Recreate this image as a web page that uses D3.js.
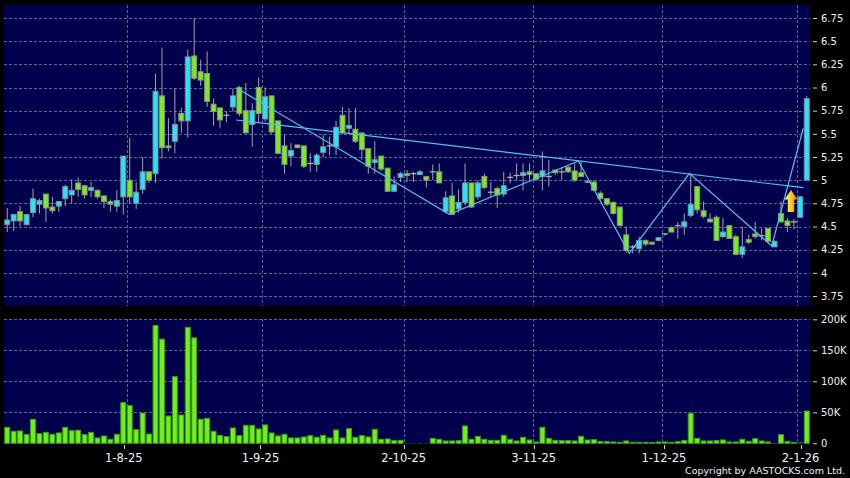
<!DOCTYPE html>
<html><head><meta charset="utf-8">
<script src="https://cdn.jsdelivr.net/npm/d3@7"></script>
<style>html,body{margin:0;padding:0;background:#000;}svg{display:block;}</style>
</head><body><div id="chart"></div>
<script>
// ---- data ----
const opens  = [4.52,4.56,4.66,4.52,4.65,4.74,4.85,4.71,4.72,4.80,4.84,4.97,4.94,4.89,4.89,4.83,4.77,4.72,4.82,5.00,
 4.75,4.90,5.09,5.07,5.91,5.37,5.42,5.72,5.64,6.34,6.17,6.15,5.82,5.78,5.70,5.79,6.00,5.75,5.60,6.00,
 5.66,5.91,5.64,5.37,5.26,5.38,5.37,5.18,5.17,5.30,5.37,5.36,5.70,5.56,5.55,5.51,5.34,5.19,5.26,5.13,
 4.88,5.03,5.07,5.07,5.06,5.04,5.09,5.09,4.66,4.83,4.69,4.76,4.97,4.82,5.04,4.87,4.91,4.85,5.03,5.05,
 5.05,5.09,5.07,5.04,5.04,5.11,5.09,5.14,5.10,5.08,4.98,4.98,4.86,4.80,4.76,4.71,4.41,4.28,4.26,4.35,
 4.33,4.35,4.42,4.49,4.51,4.50,4.62,4.93,4.67,4.58,4.60,4.39,4.51,4.39,4.20,4.36,4.42,4.40,4.48,4.28,
 4.64,4.56,4.55,4.60,5.00];
const highs  = [4.70,4.63,4.72,4.63,4.91,4.80,4.85,4.82,4.77,4.95,5.01,5.03,4.95,4.98,4.90,4.83,4.79,4.89,5.26,5.46,
 4.98,5.25,5.09,6.15,6.43,5.67,5.99,5.78,6.41,6.75,6.30,6.39,5.88,5.78,5.74,5.99,6.02,6.05,5.83,6.11,
 6.00,5.91,5.64,5.49,5.40,5.38,5.37,5.29,5.29,5.49,5.47,5.64,5.79,5.78,5.78,5.51,5.34,5.42,5.26,5.13,
 5.04,5.09,5.11,5.09,5.11,5.04,5.17,5.18,4.88,4.97,4.90,5.18,4.97,5.00,5.07,4.98,4.93,5.09,5.08,5.18,
 5.18,5.18,5.07,5.31,5.22,5.11,5.14,5.15,5.18,5.21,5.00,5.00,4.88,4.80,4.77,4.71,4.50,4.30,4.39,4.36,
 4.34,4.38,4.43,4.50,4.55,4.64,5.06,4.93,4.77,4.64,4.62,4.59,4.51,4.41,4.50,4.41,4.55,4.48,4.48,4.35,
 4.77,4.59,4.58,4.83,5.91];
const lows   = [4.44,4.45,4.50,4.51,4.60,4.64,4.55,4.64,4.66,4.72,4.75,4.82,4.80,4.82,4.80,4.70,4.66,4.66,4.63,4.75,
 4.69,4.85,4.97,4.97,5.23,5.31,5.29,5.51,5.46,6.08,6.02,5.79,5.59,5.56,5.63,5.74,5.69,5.51,5.36,5.62,
 5.63,5.50,5.28,5.07,5.15,5.35,5.13,5.09,5.09,5.25,5.27,5.27,5.50,5.50,5.40,5.22,5.07,5.07,5.10,4.88,
 4.88,4.98,4.98,4.98,5.06,4.92,5.00,4.97,4.64,4.63,4.65,4.73,4.70,4.79,4.90,4.82,4.70,4.82,4.97,5.00,
 4.89,5.00,5.00,4.89,4.93,5.06,5.00,5.08,4.98,5.04,4.97,4.88,4.79,4.72,4.63,4.50,4.22,4.21,4.21,4.29,
 4.30,4.34,4.40,4.44,4.37,4.41,4.60,4.64,4.59,4.54,4.35,4.38,4.37,4.19,4.16,4.31,4.37,4.35,4.32,4.28,
 4.54,4.44,4.47,4.59,5.00];
const closes = [4.57,4.63,4.56,4.63,4.80,4.78,4.70,4.67,4.77,4.93,4.89,4.90,4.84,4.92,4.82,4.77,4.74,4.78,5.26,4.82,
 4.87,5.09,5.00,5.96,5.35,5.35,5.60,5.64,6.33,6.10,6.08,5.85,5.74,5.65,5.70,5.91,5.72,5.51,5.75,5.72,
 5.90,5.52,5.29,5.17,5.32,5.35,5.15,5.18,5.27,5.36,5.37,5.57,5.51,5.59,5.42,5.33,5.15,5.22,5.12,4.88,
 4.95,5.07,5.05,5.07,5.09,5.00,5.09,4.97,4.81,4.63,4.76,4.97,4.71,4.97,4.92,4.87,4.84,4.94,5.03,5.05,
 5.08,5.06,5.01,5.10,5.04,5.08,5.09,5.09,5.00,5.04,4.98,4.89,4.80,4.74,4.64,4.51,4.24,4.28,4.35,4.31,
 4.31,4.38,4.42,4.44,4.51,4.55,4.74,4.68,4.61,4.55,4.35,4.44,4.37,4.20,4.28,4.33,4.39,4.40,4.34,4.34,
 4.55,4.51,4.55,4.82,5.88];
// volume in thousands of shares
const volumes = [25.8,19.4,19.9,14.5,38.7,15.6,17.7,14.5,16.7,25.8,20.4,21,14,17.7,8.6,11.8,6.5,14.5,65.6,60.8,
 22,48.9,15,190,168,44,107.5,45.7,187,170,38.7,40.3,19.4,12.9,10.8,24.7,12.4,29,29,23.1,
 29.6,16.7,11.8,14.5,8.6,8.6,10.2,12.4,9.7,12.9,8.6,21.5,8.6,23.7,9.7,12.4,10.2,22.6,6.5,7,
 4.3,4.8,0.3,0.3,0.3,0.3,8,6.5,3.8,3.8,4.3,28,6.5,11.3,6.5,4.8,4.8,12.9,6.5,3.8,
 9.7,5.4,2.2,25.8,8,4.8,4.3,4.3,3.8,11.3,5.4,5.9,2.7,2.7,2.2,1.6,3.8,1.6,1.6,1.6,
 1.1,2.2,2.2,1.6,2.7,4.8,48.4,8,3.8,3.8,4.3,5.4,2.2,2.2,6.5,3.2,7.5,3.8,2.2,0.5,
 14,3.2,1.6,1,52];
const priceTicks = [3.75,4,4.25,4.5,4.75,5,5.25,5.5,5.75,6,6.25,6.5,6.75];
const volumeTicks = [0,50,100,150,200];
const volumeTickLabels = ["0","50K","100K","150K","200K"];
const dateTickIndex = [19,40,62,82,102,123];
const dateTickLabels = ["1-8-25","1-9-25","2-10-25","3-11-25","1-12-25","2-1-26"];
// drawn trend lines: [bar index, price]
const resistanceLine = [[35.48,5.649],[123.46,4.919]];
const zigzagLine = [[35.68,5.99],[68.56,4.632],[88.57,5.207],[96.46,4.211],[105.8,5.074],[118.56,4.29],[123.46,5.56]];
const arrowMark = {index:121.55, top:4.894, bottom:4.657};

// ---- layout ----
const W=850,H=478;
const N = closes.length;
const pL=4, pR=810;
const pTop=5, pBot=306, vTop=319, vBot=444;
const BG="#00004c", GRID="#5b6496", CYAN="#22e4ff", GREEN="#78ee1c", OUT="#8c8c8c", WICK="#a4a4a4", LINE="#4fc3ef";

const svg = d3.select("#chart").append("svg").attr("width",W).attr("height",H);
svg.append("rect").attr("width",W).attr("height",H).attr("fill","#000");

const xb = d3.scaleBand().domain(d3.range(N)).range([pL,pR]).padding(0);
const xi = d3.scaleLinear().domain([-0.5,N-0.5]).range([pL,pR]);
const bw = xb.bandwidth();
const yP = d3.scaleLinear().domain([3.75,6.75]).range([296,18]);
const yV = d3.scaleLinear().domain([0,200]).range([443.3,319.3]);

// panels
svg.append("rect").attr("x",pL).attr("y",pTop).attr("width",pR-pL).attr("height",pBot-pTop).attr("fill",BG);
svg.append("rect").attr("x",pL).attr("y",vTop).attr("width",pR-pL).attr("height",vBot-vTop).attr("fill",BG);

const grid = svg.append("g").attr("stroke",GRID).attr("stroke-width",1).attr("stroke-dasharray","3,2").attr("shape-rendering","crispEdges");
grid.selectAll(".hp").data(priceTicks).join("line").attr("x1",pL).attr("x2",pR)
  .attr("y1",d=>Math.round(yP(d))+0.5).attr("y2",d=>Math.round(yP(d))+0.5);
grid.selectAll(".hv").data(volumeTicks.filter(d=>d>0)).join("line").attr("x1",pL).attr("x2",pR)
  .attr("y1",d=>Math.round(yV(d))+0.5).attr("y2",d=>Math.round(yV(d))+0.5);
dateTickIndex.forEach(i=>{
  const gx = Math.round(xb(i))+0.5;
  grid.append("line").attr("x1",gx).attr("x2",gx).attr("y1",pTop).attr("y2",pBot);
  grid.append("line").attr("x1",gx).attr("x2",gx).attr("y1",vTop).attr("y2",vBot);
});

// candles
const data = d3.range(N).map(i=>({i,o:opens[i],h:highs[i],l:lows[i],c:closes[i],v:volumes[i]}));
const cw = bw-1.5;
const cg = svg.append("g");
cg.selectAll(".wick").data(data).join("line")
  .attr("x1",d=>xb(d.i)+bw/2).attr("x2",d=>xb(d.i)+bw/2)
  .attr("y1",d=>yP(d.h)).attr("y2",d=>yP(d.l))
  .attr("stroke",WICK).attr("stroke-width",1);
cg.selectAll(".body").data(data.filter(d=>Math.abs(d.c-d.o)>=0.005)).join("rect")
  .attr("x",d=>xb(d.i)+bw/2-cw/2).attr("width",cw)
  .attr("y",d=>yP(Math.max(d.o,d.c))).attr("height",d=>Math.max(1,Math.abs(yP(d.o)-yP(d.c))))
  .attr("fill",d=>d.c>d.o?CYAN:GREEN).attr("stroke",OUT).attr("stroke-width",1);
cg.selectAll(".doji").data(data.filter(d=>Math.abs(d.c-d.o)<0.005)).join("line")
  .attr("x1",d=>xb(d.i)+bw/2-cw/2-0.5).attr("x2",d=>xb(d.i)+bw/2+cw/2+0.5)
  .attr("y1",d=>yP(d.c)).attr("y2",d=>yP(d.c))
  .attr("stroke","#b0b0b0").attr("stroke-width",1.3);

// volume bars
svg.append("g").selectAll("rect").data(data).join("rect")
  .attr("x",d=>xb(d.i)+bw/2-cw/2).attr("width",cw)
  .attr("y",d=>yV(d.v)).attr("height",d=>yV(0)-yV(d.v))
  .attr("fill","#6ff01e").attr("stroke","#3f9c12").attr("stroke-width",d=>d.v>1?1:0);

// trend lines
const ln = d3.line().x(d=>xi(d[0])).y(d=>yP(d[1]));
svg.append("path").attr("d",ln(resistanceLine)).attr("fill","none").attr("stroke",LINE).attr("stroke-width",1.2);
svg.append("path").attr("d",ln(zigzagLine)).attr("fill","none").attr("stroke",LINE).attr("stroke-width",1.2);

// arrow
const defs = svg.append("defs");
const gr = defs.append("linearGradient").attr("id","arrowGrad").attr("x1","0").attr("x2","1").attr("y1","0").attr("y2","0");
gr.append("stop").attr("offset","0").attr("stop-color","#fff59a");
gr.append("stop").attr("offset","0.45").attr("stop-color","#ffd21e");
gr.append("stop").attr("offset","1").attr("stop-color","#d88a00");
{
  const cx = xi(arrowMark.index), ty = yP(arrowMark.top), by = yP(arrowMark.bottom);
  const hw=6.5, sw=3.2, hh=9.5;
  const p = `M${cx},${ty} L${cx+hw},${ty+hh} L${cx+sw},${ty+hh} L${cx+sw},${by} L${cx-sw},${by} L${cx-sw},${ty+hh} L${cx-hw},${ty+hh} Z`;
  svg.append("path").attr("d",p).attr("fill","url(#arrowGrad)");
}

// right axes
const font = "'DejaVu Sans', Verdana, sans-serif";
const axP = d3.axisRight(yP).tickValues(priceTicks).tickSize(4).tickPadding(4).tickFormat(d=>String(d));
const gP = svg.append("g").attr("transform",`translate(813,0)`).call(axP);
const axV = d3.axisRight(yV).tickValues(volumeTicks).tickSize(4).tickPadding(4).tickFormat((d,i)=>volumeTickLabels[i]);
const gV = svg.append("g").attr("transform",`translate(813,0)`).call(axV);
[gP,gV].forEach(g=>{
  g.select(".domain").remove();
  g.selectAll(".tick line").attr("stroke","#cfcfcf");
  g.selectAll(".tick text").attr("fill","#f0f0f0").style("font-family",font).style("font-size","10px");
});

// bottom date axis
const labelX = d3.scaleLinear().domain([xb(dateTickIndex[0]), xb(dateTickIndex[dateTickIndex.length-1])]).range([123.8,800.5]);
const gD = svg.append("g");
dateTickIndex.forEach((idx,k)=>{
  const lx = labelX(xb(idx));
  gD.append("line").attr("x1",Math.round(lx)+0.5).attr("x2",Math.round(lx)+0.5).attr("y1",445).attr("y2",449).attr("stroke","#cfcfcf");
  gD.append("text").attr("x",lx).attr("y",461.7).attr("text-anchor","middle")
    .attr("fill","#f0f0f0").style("font-family",font).style("font-size","11.5px").text(dateTickLabels[k]);
});

svg.append("text").attr("x",845).attr("y",473.5).attr("text-anchor","end")
  .attr("fill","#f0f0f0").style("font-family",font).style("font-size","9.5px")
  .text("Copyright by AASTOCKS.com Ltd.");
</script></body></html>
